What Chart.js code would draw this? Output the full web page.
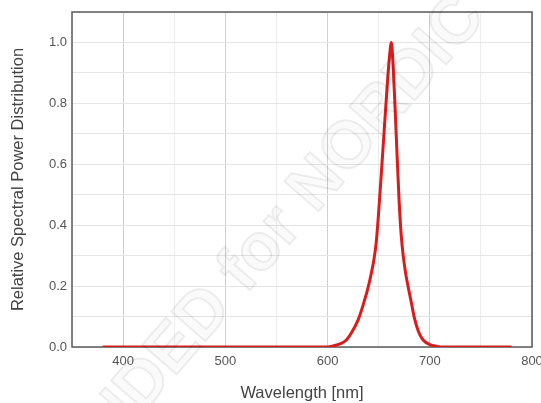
<!DOCTYPE html>
<html>
<head>
<meta charset="utf-8">
<script src="https://cdn.jsdelivr.net/npm/chart.js@4.4.0/dist/chart.umd.min.js"></script>
<style>
  html, body { margin: 0; padding: 0; background: #fff; }
  #wrap { width: 541px; height: 403px; position: relative; }
</style>
</head>
<body>
<div id="wrap"><canvas id="c" width="541" height="403"></canvas></div>
<script>
// Data
const wavelengths = [380, 400, 420, 440, 460, 480, 500, 520, 540, 560, 580, 600,
  606, 612, 618.4, 624, 630, 635, 640, 643, 645.5, 647.5, 649.5, 652, 655, 658, 660.5, 662.4,
  664.2, 666, 668, 670, 672, 674, 676.5, 679, 682, 685, 689, 693.5, 700, 707, 714,
  720, 740, 760, 780];
const relativePower = [0, 0, 0, 0, 0, 0, 0, 0, 0, 0, 0, 0,
  0.004, 0.01, 0.023, 0.05, 0.09, 0.14, 0.2, 0.245, 0.29, 0.34, 0.42, 0.54, 0.69, 0.84, 0.95, 1.0,
  0.92, 0.79, 0.63, 0.48, 0.37, 0.3, 0.24, 0.195, 0.145, 0.095, 0.05, 0.023, 0.008, 0.002, 0,
  0, 0, 0, 0];
const xTickLabels = [400, 500, 600, 700, 800];
const yTickLabels = [0.0, 0.2, 0.4, 0.6, 0.8, 1.0];
const xAxisTitle = 'Wavelength [nm]';
const yAxisTitle = 'Relative Spectral Power Distribution';
const watermarkText = 'RECOMMENDED for NORDIC';

const points = wavelengths.map((w, i) => ({ x: w, y: relativePower[i] }));

const framePlugin = {
  id: 'frame',
  beforeDatasetsDraw(chart) {
    const { ctx, chartArea: a } = chart;
    ctx.save();
    ctx.strokeStyle = '#5a5a5a';
    ctx.lineWidth = 1.5;
    ctx.strokeRect(a.left, a.top, a.right - a.left, a.bottom - a.top);
    ctx.restore();
  }
};

const watermarkPlugin = {
  id: 'watermark',
  afterDraw(chart) {
    const { ctx } = chart;
    ctx.save();
    ctx.translate(172, 352);
    ctx.rotate(-49 * Math.PI / 180);
    ctx.font = 'bold 66px "Liberation Sans", Arial, sans-serif';
    ctx.textAlign = 'center';
    ctx.textBaseline = 'middle';
    ctx.strokeStyle = 'rgba(0,0,0,0.07)';
    ctx.lineWidth = 2;
    ctx.strokeText(watermarkText, 0, 0);
    ctx.fillStyle = 'rgba(0,0,0,0.02)';
    ctx.fillText(watermarkText, 0, 0);
    ctx.restore();
  }
};

const fontFamily = '"Liberation Sans", Arial, sans-serif';

new Chart(document.getElementById('c'), {
  type: 'line',
  data: {
    datasets: [{
      data: points,
      borderColor: 'rgb(218,28,28)',
      borderWidth: 3,
      pointRadius: 0,
      fill: false,
      cubicInterpolationMode: 'monotone'
    }]
  },
  options: {
    responsive: false,
    animation: false,
    events: [],
    layout: { padding: { top: 12, right: 0, left: 0, bottom: 0 } },
    plugins: { legend: { display: false }, tooltip: { enabled: false } },
    scales: {
      x: {
        type: 'linear',
        min: 350, max: 800,
        afterFit(s) { s.height = 56; s.paddingRight = 9; s.paddingLeft = 0; },
        border: { display: false },
        grid: {
          drawTicks: false,
          color: (c) => xTickLabels.includes(c.tick.value) ? '#cfcfcf' : '#ececec',
          lineWidth: 1
        },
        ticks: {
          stepSize: 50,
          padding: 7,
          maxRotation: 0,
          autoSkip: false,
          color: '#555',
          font: { family: fontFamily, size: 13 },
          callback: (v) => xTickLabels.includes(v) ? String(v) : ''
        },
        title: {
          display: true,
          text: xAxisTitle,
          color: '#444',
          font: { family: fontFamily, size: 16.5 },
          padding: { top: 0, bottom: 0 }
        }
      },
      y: {
        type: 'linear',
        min: 0, max: 1.1,
        afterFit(s) { s.width = 72; s.paddingTop = 0; s.paddingBottom = 0; },
        border: { display: false },
        grid: {
          drawTicks: false,
          color: (c) => '#e4e4e4',
          lineWidth: 1
        },
        ticks: {
          stepSize: 0.1,
          padding: 5,
          autoSkip: false,
          color: '#555',
          font: { family: fontFamily, size: 13 },
          callback: (v) => {
            const r = Math.round(v * 10) / 10;
            return yTickLabels.some(t => Math.abs(t - r) < 1e-9) ? r.toFixed(1) : '';
          }
        },
        title: {
          display: true,
          text: yAxisTitle,
          color: '#444',
          font: { family: fontFamily, size: 16.5 },
          padding: { top: 9, bottom: 0 }
        }
      }
    }
  },
  plugins: [framePlugin, watermarkPlugin]
});
</script>
</body>
</html>
